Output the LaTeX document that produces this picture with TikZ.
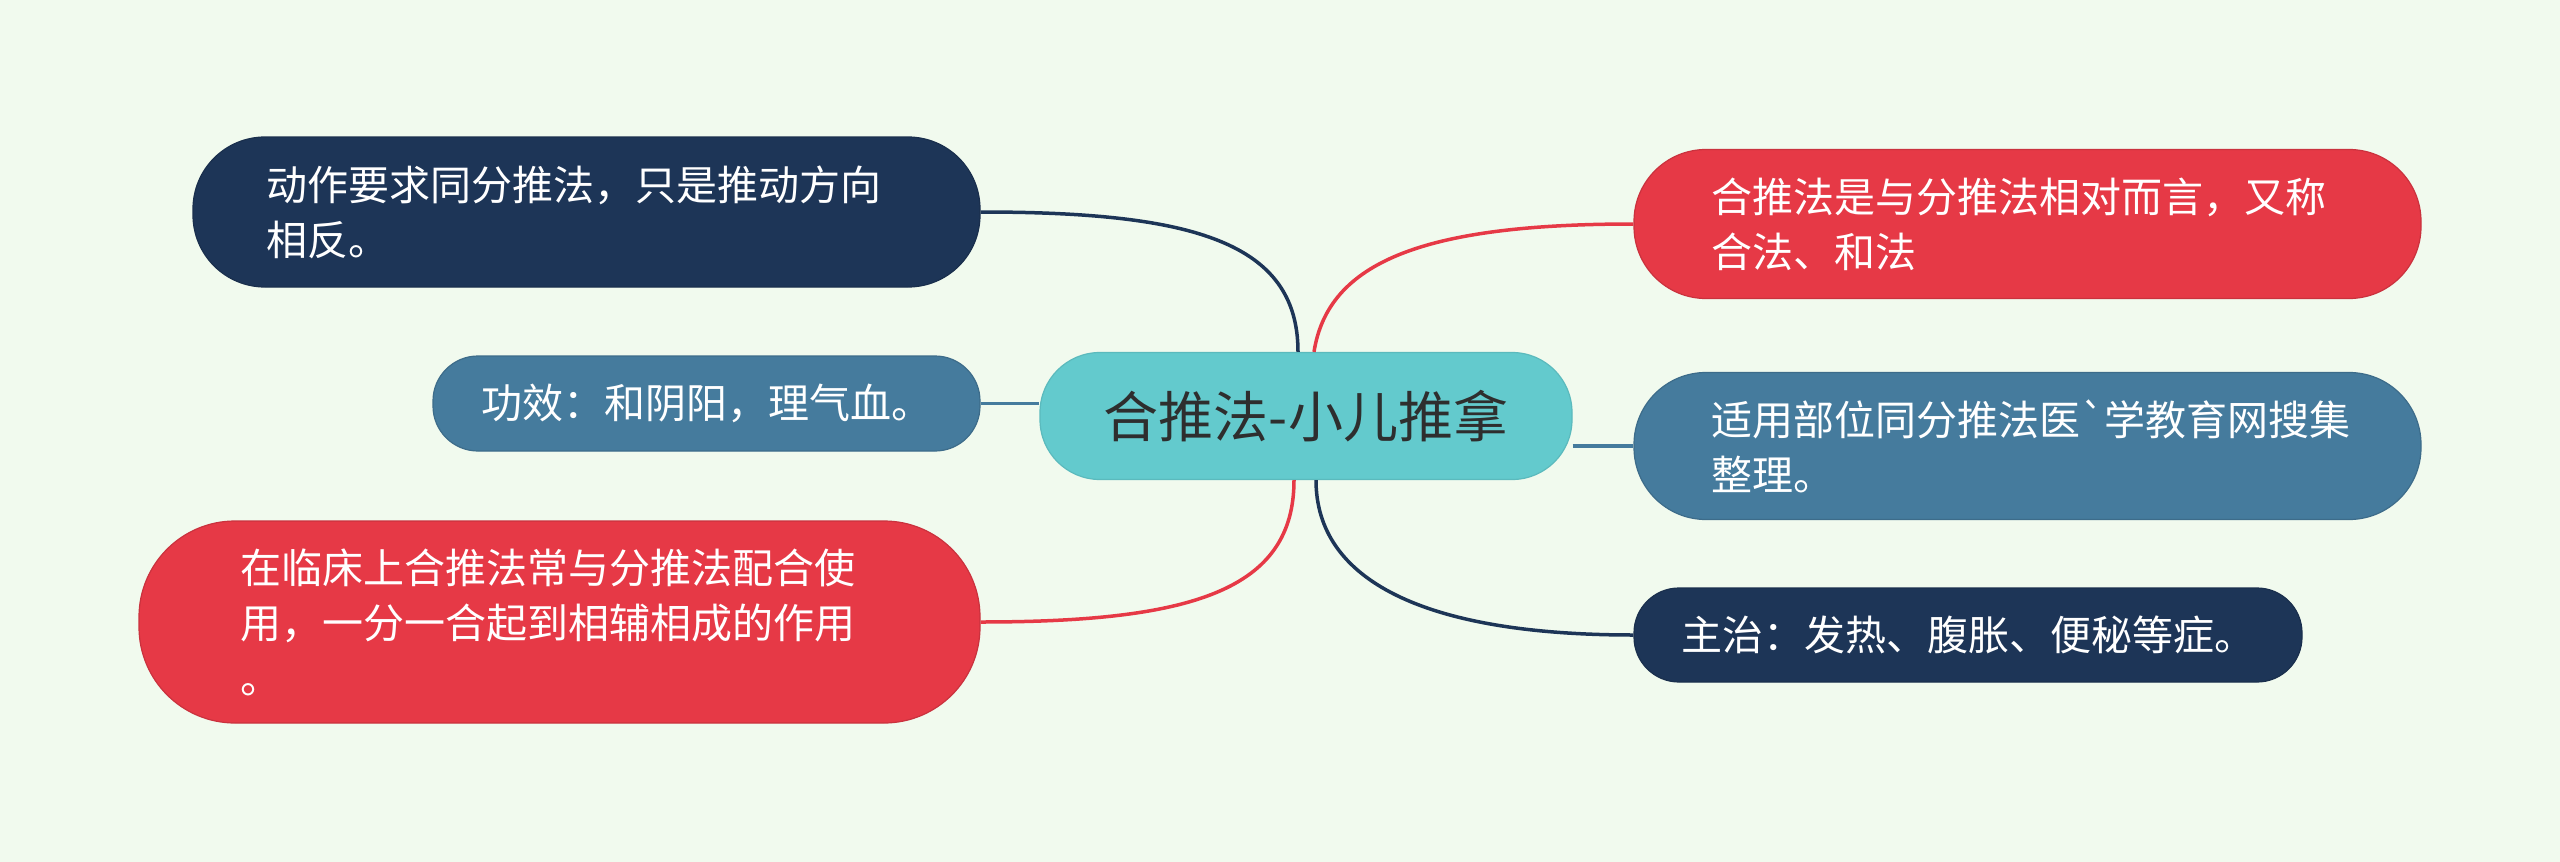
\documentclass[tikz,border=0pt]{standalone}
\usepackage{fontspec}
\newfontfamily\cjk{Noto Sans CJK SC}
\usetikzlibrary{calc}
\definecolor{bgc}{HTML}{F1FAEE}
\definecolor{navyc}{HTML}{1D3557}
\definecolor{steelc}{HTML}{457B9D}
\definecolor{redc}{HTML}{E63946}
\definecolor{centc}{HTML}{63CACD}
\definecolor{darktext}{HTML}{2E2E2E}
\begin{document}
\begin{tikzpicture}[x=1pt,y=-1pt,
  leaf/.style={draw=#1!88!black, fill=#1, line width=1.2pt, text=white,
    font=\cjk\fontsize{41}{55}\selectfont, inner ysep=0pt},
  multi/.style={align=left, text width=#1},
  single/.style={align=center, inner xsep=0pt},
  link/.style={line width=3.5pt, draw=#1}]
\fill[bgc] (0,0) rectangle (2560,862);
\useasboundingbox (0,0) rectangle (2560,862);

% central
\node[draw=centc!92!black, fill=centc, line width=1.2pt, text=darktext,
  font=\cjk\fontsize{55}{66}\selectfont, rounded corners=60pt,
  minimum width=532pt, minimum height=127pt, inner sep=0pt] (c) at (1306,416) {合推法-小儿推拿};

% left side
\node[leaf=navyc, multi=641pt, inner xsep=73pt, rounded corners=72pt,
  minimum width=787pt, minimum height=150pt] (a) at (586.5,212) {动作要求同分推法，只是推动方向\\相反。};
\node[leaf=steelc, single, rounded corners=45pt,
  minimum width=547pt, minimum height=95pt] (b) at (706.5,403.5) {功效：和阴阳，理气血。};
\node[leaf=redc, multi=639pt, inner xsep=101pt, rounded corners=96pt,
  minimum width=841pt, minimum height=202pt] (l) at (559.5,622) {在临床上合推法常与分推法配合使\\用，一分一合起到相辅相成的作用\\。};

% right side
\node[leaf=redc, multi=633pt, inner xsep=77pt, rounded corners=72pt,
  minimum width=787pt, minimum height=149pt] (d) at (2027.5,224) {合推法是与分推法相对而言，又称\\合法、和法};
\node[leaf=steelc, multi=633pt, inner xsep=77pt, rounded corners=72pt,
  minimum width=787pt, minimum height=147pt] (e) at (2027.5,446) {适用部位同分推法医`学教育网搜集\\整理。};
\node[leaf=navyc, single, rounded corners=45pt,
  minimum width=668pt, minimum height=94pt] (f) at (1968,635) {主治：发热、腹胀、便秘等症。};

% connectors
\draw[link=navyc] (a.east) .. controls ($(a.east)+(212,0)$) and ($(c.north)+(-8,-110)$) .. ($(c.north)+(-8,0)$);
\draw[link=steelc] (b.east) -- (c.west |- b.east);
\draw[link=redc] (l.east) .. controls ($(l.east)+(212,0)$) and ($(c.south)+(-12,110)$) .. ($(c.south)+(-12,0)$);
\draw[link=redc] ($(c.north)+(8,0)$) .. controls ($(c.north)+(22,-90)$) and ($(d.west)+(-210,0)$) .. (d.west);
\draw[link=steelc] (c.east |- e.west) -- (e.west);
\draw[link=navyc] ($(c.south)+(10,0)$) .. controls ($(c.south)+(10,100)$) and ($(f.west)+(-210,0)$) .. (f.west);
\end{tikzpicture}
\end{document}
